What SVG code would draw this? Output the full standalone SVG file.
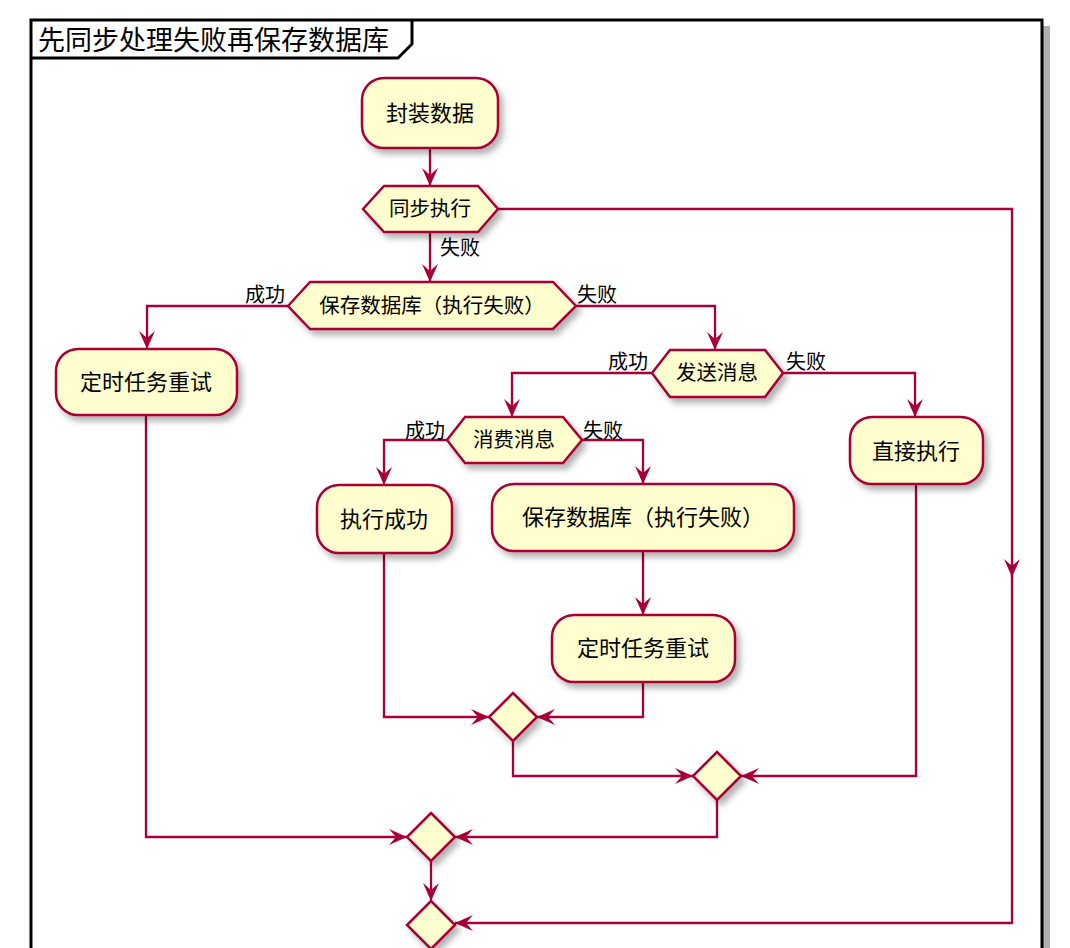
<svg xmlns="http://www.w3.org/2000/svg" width="1070" height="948" viewBox="0 0 1070 948">
<defs>
<filter id="sh" x="-20%" y="-20%" width="150%" height="160%">
<feDropShadow dx="4" dy="5" stdDeviation="3" flood-color="#000" flood-opacity="0.3"/>
</filter>
<marker id="ar" viewBox="0 0 18 16" refX="18" refY="8" markerWidth="18" markerHeight="16" markerUnits="userSpaceOnUse" orient="auto">
<path d="M0,0 L18,8 L0,16 L7,8 z" fill="#A80036"/>
</marker>
<style>
.n{fill:#FEFECE;stroke:#A80036;stroke-width:2.5;filter:url(#sh)}
.t{font-family:"Noto Sans CJK SC","Noto Sans",sans-serif;font-size:22px;fill:#000;text-anchor:middle}
.th{font-family:"Noto Sans CJK SC","Noto Sans",sans-serif;font-size:20.5px;fill:#000;text-anchor:middle}
.l{font-family:"Noto Sans CJK SC","Noto Sans",sans-serif;font-size:20px;fill:#000}
.c{fill:none;stroke:#A80036;stroke-width:2.3}
.c.a{marker-end:url(#ar)}
</style>
</defs>
<rect width="1070" height="948" fill="#fff"/>
<g id="frame">
<rect x="1043" y="26" width="7" height="930" fill="#b0b0b0"/>
<rect x="31" y="20" width="1011" height="940" fill="none" stroke="#000" stroke-width="3"/>
<path d="M31,58 L398,58 L412,44 L412,20" fill="none" stroke="#000" stroke-width="3"/>
<text x="38" y="50" font-family="Noto Sans CJK SC, sans-serif" font-size="27">先同步处理失败再保存数据库</text>
</g>
<g id="connectors">
<path class="c a" d="M430,148 V186"/>
<path class="c a" d="M498,209 H1012 V577"/>
<path class="c a" d="M1012,570 V923 H455"/>
<path class="c a" d="M430,232 V282"/>
<path class="c a" d="M288,306 H147 V349"/>
<path class="c a" d="M576,306 H715 V350"/>
<path class="c a" d="M652,373 H512 V417"/>
<path class="c a" d="M783,373 H915 V417"/>
<path class="c a" d="M447,440 H384 V485"/>
<path class="c a" d="M582,440 H643 V484"/>
<path class="c a" d="M643,551 V615"/>
<path class="c a" d="M384,553 V717 H489"/>
<path class="c a" d="M643,682 V717 H537"/>
<path class="c a" d="M513,741 V776 H693"/>
<path class="c a" d="M916,484 V776 H741"/>
<path class="c a" d="M146,415 V837 H407"/>
<path class="c a" d="M717,800 V837 H455"/>
<path class="c a" d="M431,861 V901"/>
<text class="l" x="440" y="255">失败</text>
<text class="l" x="285" y="302" text-anchor="end">成功</text>
<text class="l" x="577" y="302">失败</text>
<text class="l" x="648" y="369" text-anchor="end">成功</text>
<text class="l" x="786" y="369">失败</text>
<text class="l" x="445" y="438" text-anchor="end">成功</text>
<text class="l" x="583" y="438">失败</text>
</g>
<g id="n1"><rect class="n" x="362" y="78" width="136" height="70" rx="22"/><text class="t" x="430" y="121">封装数据</text></g>
<g id="n2"><polygon class="n" points="363,209 384,186 478,186 498,209 478,232 384,232"/><text class="th" x="430" y="216">同步执行</text></g>
<g id="n3"><polygon class="n" points="288,306 310,282 553,282 576,306 553,329 310,329"/><text class="th" x="432" y="313">保存数据库（执行失败）</text></g>
<g id="n4"><rect class="n" x="56" y="349" width="181" height="66" rx="22"/><text class="t" x="146" y="390">定时任务重试</text></g>
<g id="n5"><polygon class="n" points="652,373 670,350 765,350 783,373 765,397 670,397"/><text class="th" x="717" y="380">发送消息</text></g>
<g id="n6"><rect class="n" x="850" y="417" width="133" height="67" rx="22"/><text class="t" x="916" y="459">直接执行</text></g>
<g id="n7"><polygon class="n" points="447,440 465,417 563,417 582,440 563,463 465,463"/><text class="th" x="514" y="447">消费消息</text></g>
<g id="n8"><rect class="n" x="317" y="485" width="135" height="68" rx="22"/><text class="t" x="384" y="527">执行成功</text></g>
<g id="n9"><rect class="n" x="492" y="484" width="302" height="67" rx="22"/><text class="t" x="643" y="525">保存数据库（执行失败）</text></g>
<g id="n10"><rect class="n" x="552" y="615" width="183" height="67" rx="22"/><text class="t" x="643" y="656">定时任务重试</text></g>
<g id="d1"><polygon class="n" points="513,693 537,717 513,741 489,717"/></g>
<g id="d2"><polygon class="n" points="717,752 741,776 717,800 693,776"/></g>
<g id="d3"><polygon class="n" points="431,813 455,837 431,861 407,837"/></g>
<g id="d4"><polygon class="n" points="431,901 455,925 431,949 407,925"/></g>
</svg>
